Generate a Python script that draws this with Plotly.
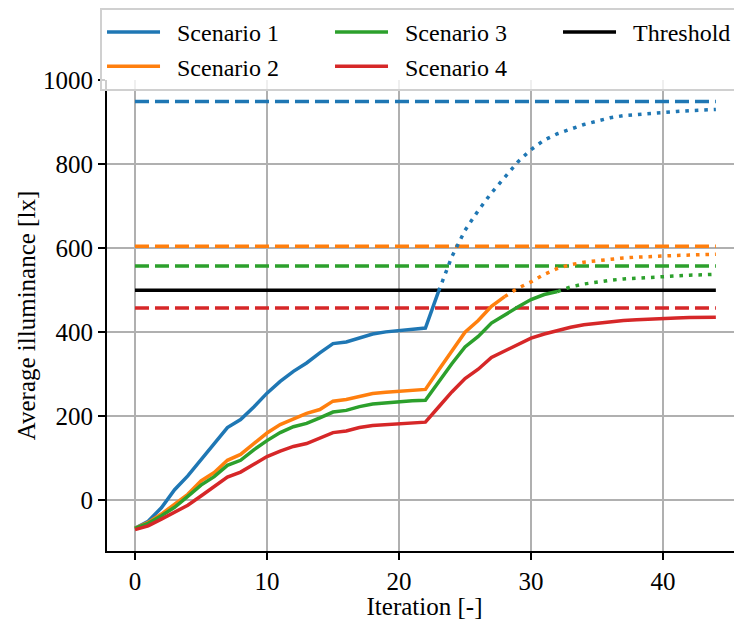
import plotly.graph_objects as go

iterations = list(range(45))

scenario_names = ["Scenario 1", "Scenario 2", "Scenario 3", "Scenario 4"]
scenario_colors = ["#1f77b4", "#ff7f0e", "#2ca02c", "#d62728"]

scenario_1 = [-67, -50, -18, 25, 58, 97, 133, 173, 192, 222,
              255, 283, 307, 327, 351, 373, 377, 386, 396, 401,
              404, 409, 410, 498, 580, 643, 690, 732, 770, 806,
              835, 858, 873, 885, 895, 903, 911, 916, 919, 922,
              924, 926, 928, 930, 931]
scenario_2 = [-67, -53, -33, -10, 14, 46, 66, 95, 109, 135,
              160, 180, 194, 207, 216, 236, 240, 248, 254, 257,
              260, 263, 264, 310, 355, 400, 428, 462, 485, 505,
              520, 538, 552, 561, 567, 571, 574, 577, 579, 581,
              582, 583, 584, 585, 586]
scenario_3 = [-67, -55, -37, -17, 9, 36, 56, 83, 95, 120,
              142, 161, 175, 183, 196, 210, 214, 223, 229, 232,
              234, 237, 238, 282, 325, 365, 390, 422, 442, 460,
              478, 490, 497, 508, 515, 520, 524, 527, 529, 532,
              534, 535, 536, 537, 538]
scenario_4 = [-70, -61, -45, -28, -12, 10, 33, 55, 67, 86,
              104, 117, 128, 135, 147, 161, 165, 173, 178, 180,
              182, 185, 186, 222, 258, 290, 312, 340, 356, 371,
              386, 396, 405, 412, 418, 422, 425, 428, 430, 432,
              433, 434, 435, 435, 436]

targets = [950, 605, 558, 458]
threshold = 500

series = [scenario_1, scenario_2, scenario_3, scenario_4]
legend_ranks = [1, 4, 2, 5]

FONT = "Liberation Serif"
LW = 3.5

fig = go.Figure()

# dashed target levels
for name, color, target in zip(scenario_names, scenario_colors, targets):
    fig.add_trace(go.Scatter(
        x=[iterations[0], iterations[-1]], y=[target, target], mode="lines",
        line=dict(color=color, width=LW, dash="14px,6px"),
        showlegend=False, hoverinfo="skip"))

# threshold
fig.add_trace(go.Scatter(
    x=[iterations[0], iterations[-1]], y=[threshold, threshold], mode="lines",
    line=dict(color="black", width=LW), name="\u2002Threshold",
    legendrank=3, showlegend=True))

for name, color, vals, rank in zip(scenario_names, scenario_colors, series, legend_ranks):
    k = next((i for i, v in enumerate(vals) if v >= threshold), None)
    if k is None:
        solid_x, solid_y = iterations, vals
        dot_x, dot_y = [], []
    else:
        solid_x, solid_y = iterations[:k], vals[:k]
        dot_x, dot_y = iterations[k - 1:], vals[k - 1:]
    fig.add_trace(go.Scatter(
        x=solid_x, y=solid_y, mode="lines",
        line=dict(color=color, width=LW), name="\u2002" + name,
        legendrank=rank, showlegend=True))
    if dot_x:
        fig.add_trace(go.Scatter(
            x=dot_x, y=dot_y, mode="lines",
            line=dict(color=color, width=LW, dash="3.6px,5.9px"),
            showlegend=False))

axis_common = dict(
    showgrid=True, gridcolor="#b0b0b0", gridwidth=2,
    showline=True, linecolor="black", linewidth=2,
    ticks="outside", ticklen=7, tickwidth=2, tickcolor="black",
    zeroline=False,
    tickfont=dict(family=FONT, size=25, color="black"),
)

fig.update_xaxes(range=[-2.12, 45.98], tickvals=[0, 10, 20, 30, 40],
                 title=dict(text="Iteration [-]", standoff=6,
                            font=dict(family=FONT, size=25, color="black")),
                 **axis_common)
fig.update_yaxes(range=[-121, 1001], tickvals=[0, 200, 400, 600, 800, 1000],
                 title=dict(text="Average illuminance [lx]", standoff=0,
                            font=dict(family=FONT, size=25, color="black")),
                 **axis_common)

# the page adds an 8px body margin, so the figure is sized and offset to compensate
fig.update_layout(
    width=734, height=612,
    margin=dict(l=99, r=0, t=72, b=69, autoexpand=False),
    plot_bgcolor="white", paper_bgcolor="white",
    font=dict(family=FONT, size=25, color="black"),
    showlegend=True,
    legend=dict(
        orientation="h", x=-0.011, xanchor="left", y=1.153, yanchor="top",
        bgcolor="rgba(255,255,255,0.8)", bordercolor="#d0d0d0", borderwidth=2,
        itemwidth=53, entrywidth=160, entrywidthmode="pixels",
        font=dict(family=FONT, size=24, color="black"),
        traceorder="normal",
    ),
)

fig.write_html("out.html")
